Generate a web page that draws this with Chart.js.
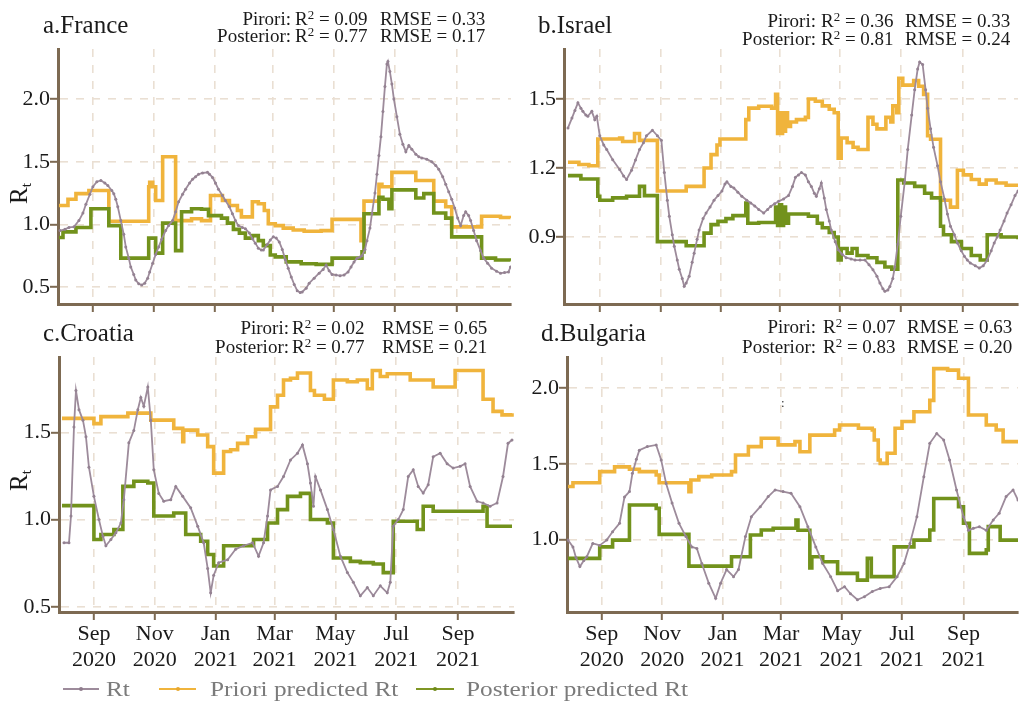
<!DOCTYPE html>
<html>
<head>
<meta charset="utf-8">
<script src="https://cdn.jsdelivr.net/npm/chart.js@4.4.1/dist/chart.umd.min.js"></script>
<style>
  html, body { margin:0; padding:0; background:#fff; overflow:hidden; }
  body { width:1022px; height:704px; position:relative; font-family:'Liberation Serif','Times New Roman',serif; }
  canvas { position:absolute; }
  .t { position:absolute; white-space:nowrap; line-height:1; color:#1a1a1a; }
  .title { font-size:25px; }
  .ann { font-size:19px; }
  .lab { text-align:right; }
  sup { font-size:0.68em; vertical-align:0.5em; line-height:0; }
  .ytitle { font-size:25px; transform:rotate(-90deg); transform-origin:center center; }
  .ytitle sub { font-size:0.62em; vertical-align:-0.25em; line-height:0; }
  .leg { position:absolute; top:676px; height:26px; font-size:22px; color:#7b7b7b; white-space:nowrap; transform:scaleX(1.15); transform-origin:left center; line-height:26px; }
  .sw { position:absolute; height:2px; top:688px; }
  .dot { position:absolute; width:4px; height:4px; border-radius:2px; top:687px; }
</style>
</head>
<body>
<canvas id="cA" width="515" height="320" style="left:0;top:0"></canvas>
<canvas id="cB" width="522" height="320" style="left:500px;top:0"></canvas>
<canvas id="cC" width="518" height="380" style="left:0;top:310px"></canvas>
<canvas id="cD" width="522" height="380" style="left:500px;top:310px"></canvas>

<!-- titles -->
<div class="t title" style="left:43px;top:12px">a.France</div>
<div class="t title" style="left:538px;top:12px">b.Israel</div>
<div class="t title" style="left:43px;top:320px">c.Croatia</div>
<div class="t title" style="left:541px;top:320px">d.Bulgaria</div>

<!-- annotations -->
<div class="t ann lab" style="right:731px;top:9px">Pirori:</div>
<div class="t ann" style="left:295px;top:9px">R<sup>2</sup> = 0.09</div>
<div class="t ann" style="left:380px;top:9px">RMSE = 0.33</div>
<div class="t ann lab" style="right:731px;top:26px">Posterior:</div>
<div class="t ann" style="left:295px;top:26px">R<sup>2</sup> = 0.77</div>
<div class="t ann" style="left:380px;top:26px">RMSE = 0.17</div>

<div class="t ann lab" style="right:206px;top:11px">Pirori:</div>
<div class="t ann" style="left:821px;top:11px">R<sup>2</sup> = 0.36</div>
<div class="t ann" style="left:905px;top:11px">RMSE = 0.33</div>
<div class="t ann lab" style="right:206px;top:29px">Posterior:</div>
<div class="t ann" style="left:821px;top:29px">R<sup>2</sup> = 0.81</div>
<div class="t ann" style="left:905px;top:29px">RMSE = 0.24</div>

<div class="t ann lab" style="right:733px;top:318px">Pirori:</div>
<div class="t ann" style="left:292px;top:318px">R<sup>2</sup> = 0.02</div>
<div class="t ann" style="left:382px;top:318px">RMSE = 0.65</div>
<div class="t ann lab" style="right:733px;top:337px">Posterior:</div>
<div class="t ann" style="left:292px;top:337px">R<sup>2</sup> = 0.77</div>
<div class="t ann" style="left:382px;top:337px">RMSE = 0.21</div>

<div class="t ann lab" style="right:206px;top:317px">Pirori:</div>
<div class="t ann" style="left:823px;top:317px">R<sup>2</sup> = 0.07</div>
<div class="t ann" style="left:907px;top:317px">RMSE = 0.63</div>
<div class="t ann lab" style="right:206px;top:337px">Posterior:</div>
<div class="t ann" style="left:823px;top:337px">R<sup>2</sup> = 0.83</div>
<div class="t ann" style="left:907px;top:337px">RMSE = 0.20</div>

<div class="t" style="left:781px;top:396px;font-size:13px;color:#333">:</div>

<!-- y titles -->
<div class="t ytitle" style="left:8px;top:181px">R<sub>t</sub></div>
<div class="t ytitle" style="left:8px;top:468px">R<sub>t</sub></div>

<!-- legend -->
<div class="sw" style="left:63px;width:36px;background:#9d8b9b"></div>
<div class="dot" style="left:79px;background:#8f7d8d"></div>
<div class="leg" style="left:106px">Rt</div>
<div class="sw" style="left:159px;width:37px;background:#f0b43c"></div>
<div class="dot" style="left:176px;background:#e8a830"></div>
<div class="leg" style="left:210px">Priori predicted Rt</div>
<div class="sw" style="left:416px;width:38px;background:#7f9624"></div>
<div class="dot" style="left:433px;background:#6e8a18"></div>
<div class="leg" style="left:466px">Posterior predicted Rt</div>

<script>
// ---- data (x = days since 1 Aug 2020) ----
const monthTicks = [31, 92, 153, 212, 273, 334, 396];
const monthLabels = [['Sep','2020'],['Nov','2020'],['Jan','2021'],['Mar','2021'],['May','2021'],['Jul','2021'],['Sep','2021']];
const seriesNames = ['Rt', 'Priori predicted Rt', 'Posterior predicted Rt'];

const franceYTicks = [0.5, 1.0, 1.5, 2.0];
const israelYTicks = [0.9, 1.2, 1.5];
const croatiaYTicks = [0.5, 1.0, 1.5];
const bulgariaYTicks = [1.0, 1.5, 2.0];

const franceRt = [[-2,0.95],[3,0.96],[7,0.975],[12,0.98],[17,1.03],[21,1.09],[24,1.16],[28,1.24],[31,1.30],[35,1.34],[39,1.35],[43,1.33],[46,1.31],[50,1.27],[52,1.245],[54,1.20],[56,1.14],[59,1.03],[62,0.92],[64,0.82],[67,0.73],[69,0.66],[72,0.60],[74,0.555],[77,0.525],[80,0.515],[83,0.53],[86,0.57],[88,0.62],[91,0.69],[94,0.76],[97,0.82],[100,0.88],[104,0.95],[107,0.99],[111,1.03],[114,1.10],[117,1.18],[121,1.24],[124,1.28],[128,1.33],[131,1.36],[134,1.38],[137,1.40],[141,1.41],[146,1.415],[148,1.40],[151,1.375],[154,1.33],[157,1.28],[161,1.23],[164,1.19],[168,1.14],[171,1.085],[174,1.03],[177,0.99],[181,0.975],[184,0.965],[188,0.93],[191,0.885],[194,0.85],[197,0.81],[200,0.795],[202,0.795],[206,0.84],[209,0.875],[212,0.90],[215,0.89],[218,0.86],[221,0.80],[224,0.72],[227,0.65],[230,0.58],[233,0.52],[236,0.47],[239,0.455],[241,0.46],[245,0.49],[248,0.53],[253,0.57],[258,0.61],[262,0.64],[265,0.675],[268,0.63],[271,0.60],[275,0.595],[279,0.59],[283,0.595],[287,0.62],[290,0.66],[293,0.70],[296,0.73],[299,0.74],[301,0.75],[304,0.80],[306,0.87],[309,0.97],[311,1.085],[314,1.25],[316,1.40],[318,1.55],[320,1.70],[322,1.90],[324,2.10],[326,2.28],[327,2.30],[329,2.22],[331,2.12],[333,2.0],[336,1.86],[339,1.72],[342,1.64],[345,1.58],[348,1.63],[351,1.60],[355,1.56],[358,1.54],[361,1.53],[366,1.52],[371,1.50],[375,1.47],[378,1.44],[382,1.38],[385,1.32],[388,1.26],[391,1.20],[394,1.13],[397,1.05],[400,0.99],[403,1.07],[405,1.10],[408,1.07],[410,1.03],[413,0.95],[416,0.87],[420,0.79],[423,0.73],[427,0.69],[431,0.65],[436,0.625],[440,0.61],[444,0.615],[448,0.62],[450,0.66]];
const francePriori = [[-3,1.15],[6,1.20],[14,1.245],[27,1.27],[47,1.025],[87,1.30],[88,1.335],[91,1.30],[94,1.19],[101,1.54],[114,1.03],[130,1.045],[140,1.03],[149,1.23],[161,1.19],[168,1.15],[176,1.11],[180,1.06],[191,1.18],[197,1.165],[203,1.11],[207,1.005],[214,0.99],[222,0.97],[232,0.955],[243,0.945],[260,0.95],[271,1.04],[300,0.87],[303,1.185],[318,1.32],[321,1.30],[331,1.415],[355,1.35],[373,1.185],[385,1.14],[391,0.98],[421,1.065],[440,1.055],[450,1.05]];
const francePosterior = [[-3,0.895],[1,0.94],[14,0.975],[29,1.125],[47,0.99],[59,0.73],[87,0.89],[94,0.77],[101,1.01],[114,0.79],[120,1.10],[130,1.125],[140,1.12],[147,1.07],[160,1.05],[166,1.01],[172,0.96],[178,0.93],[184,0.89],[191,0.91],[197,0.87],[202,0.83],[209,0.755],[214,0.74],[225,0.70],[240,0.685],[255,0.68],[271,0.73],[301,0.78],[303,1.085],[318,1.215],[322,1.20],[328,1.125],[331,1.275],[355,1.21],[363,1.245],[373,1.09],[385,1.05],[391,0.90],[421,0.73],[435,0.715],[450,0.71]];

const israelRt = [[-1,1.374],[3,1.417],[6,1.45],[9,1.483],[12,1.46],[14,1.446],[17,1.43],[19,1.425],[23,1.446],[26,1.41],[28,1.425],[31,1.34],[35,1.30],[38,1.28],[44,1.236],[51,1.193],[55,1.165],[58,1.15],[63,1.19],[67,1.235],[71,1.28],[75,1.31],[78,1.34],[84,1.364],[89,1.34],[93,1.32],[96,1.18],[99,1.06],[101,0.99],[104,0.91],[106,0.86],[109,0.80],[111,0.76],[114,0.72],[116,0.686],[118,0.70],[121,0.73],[124,0.79],[126,0.83],[129,0.89],[131,0.93],[135,0.98],[138,1.004],[142,1.03],[146,1.06],[150,1.08],[154,1.10],[157,1.13],[159,1.14],[163,1.12],[166,1.113],[170,1.095],[174,1.077],[179,1.06],[183,1.048],[187,1.035],[191,1.02],[196,1.004],[200,1.02],[203,1.033],[207,1.045],[211,1.055],[216,1.065],[221,1.08],[225,1.12],[228,1.16],[231,1.17],[234,1.18],[238,1.17],[241,1.14],[244,1.12],[247,1.09],[249,1.077],[252,1.11],[254,1.135],[257,1.07],[259,1.02],[262,0.97],[264,0.93],[268,0.88],[271,0.845],[275,0.825],[279,0.81],[284,0.805],[288,0.80],[293,0.80],[298,0.80],[302,0.78],[306,0.758],[310,0.73],[313,0.70],[316,0.675],[318,0.664],[321,0.67],[323,0.685],[326,0.72],[328,0.77],[331,0.87],[334,0.99],[338,1.14],[341,1.28],[345,1.43],[348,1.54],[351,1.63],[353,1.66],[356,1.65],[359,1.54],[361,1.46],[364,1.37],[367,1.29],[371,1.21],[374,1.14],[378,1.065],[381,1.0],[384,0.947],[388,0.91],[391,0.874],[395,0.84],[398,0.816],[401,0.80],[404,0.787],[409,0.775],[413,0.765],[417,0.775],[421,0.80],[425,0.84],[428,0.874],[431,0.90],[434,0.93],[438,0.97],[441,1.004],[445,1.04],[449,1.08],[452,1.10]];
const israelPriori = [[-1,1.225],[10,1.215],[20,1.21],[29,1.326],[51,1.33],[54,1.315],[66,1.35],[71,1.32],[89,1.10],[118,1.12],[136,1.20],[143,1.258],[149,1.30],[152,1.326],[178,1.41],[181,1.46],[191,1.468],[204,1.46],[208,1.52],[210,1.35],[212,1.44],[213,1.35],[215,1.44],[216,1.36],[218,1.44],[220,1.38],[223,1.40],[229,1.41],[238,1.42],[241,1.50],[248,1.49],[255,1.47],[262,1.455],[267,1.44],[271,1.243],[274,1.33],[280,1.31],[286,1.29],[291,1.28],[301,1.42],[306,1.39],[310,1.37],[319,1.42],[324,1.40],[326,1.47],[330,1.44],[332,1.59],[336,1.56],[347,1.58],[352,1.555],[357,1.52],[361,1.34],[364,1.325],[374,1.06],[384,1.03],[391,1.19],[397,1.17],[405,1.15],[413,1.13],[420,1.148],[430,1.135],[440,1.125],[452,1.12]];
const israelPosterior = [[-1,1.167],[12,1.152],[29,1.077],[31,1.06],[44,1.07],[58,1.077],[71,1.12],[76,1.08],[89,0.88],[118,0.862],[136,0.917],[143,0.954],[150,0.968],[158,0.98],[165,0.993],[178,1.048],[180,0.96],[191,0.963],[205,0.963],[208,1.03],[210,0.95],[212,1.04],[214,0.95],[216,1.03],[218,0.96],[221,1.0],[228,1.0],[241,0.99],[250,0.96],[255,0.94],[262,0.92],[267,0.90],[271,0.80],[274,0.85],[280,0.83],[285,0.85],[290,0.82],[296,0.82],[301,0.81],[310,0.79],[318,0.77],[325,0.76],[331,1.148],[337,1.135],[348,1.12],[358,1.09],[365,1.07],[374,0.947],[377,0.91],[385,0.88],[395,0.85],[405,0.82],[414,0.80],[421,0.91],[435,0.90],[452,0.89]];

const croatiaRt = [[1,0.867],[6,0.867],[8,1.02],[11,1.53],[13,1.74],[16,1.63],[20,1.57],[23,1.475],[26,1.30],[31,1.133],[36,1.0],[40,0.905],[43,0.85],[48,0.886],[53,0.924],[58,0.98],[61,1.114],[66,1.44],[71,1.51],[75,1.63],[78,1.70],[81,1.65],[85,1.76],[88,1.57],[91,1.285],[96,1.15],[101,1.105],[108,1.114],[113,1.19],[120,1.133],[128,1.067],[135,0.962],[141,0.867],[145,0.72],[148,0.58],[151,0.68],[156,0.753],[165,0.77],[173,0.83],[181,0.85],[190,0.867],[196,0.79],[201,0.867],[205,1.02],[208,1.17],[215,1.19],[221,1.247],[228,1.342],[235,1.38],[240,1.428],[245,1.32],[248,1.21],[251,1.076],[253,1.247],[258,1.17],[265,1.057],[271,0.943],[278,0.79],[285,0.696],[291,0.64],[298,0.563],[305,0.61],[311,0.563],[318,0.62],[325,0.58],[328,0.64],[331,0.962],[336,1.0],[341,1.057],[346,1.247],[351,1.285],[356,1.19],[361,1.152],[366,1.20],[371,1.36],[378,1.38],[385,1.32],[391,1.295],[398,1.305],[403,1.32],[408,1.19],[415,1.105],[421,1.095],[428,1.076],[435,1.095],[441,1.247],[446,1.437],[450,1.456]];
const croatiaPriori = [[-1,1.58],[31,1.55],[38,1.59],[65,1.61],[88,1.57],[111,1.523],[120,1.447],[121,1.513],[135,1.485],[145,1.418],[151,1.266],[161,1.39],[168,1.40],[175,1.437],[185,1.475],[193,1.517],[208,1.646],[215,1.713],[221,1.80],[228,1.81],[235,1.84],[248,1.74],[252,1.713],[262,1.69],[271,1.80],[285,1.79],[295,1.80],[305,1.75],[310,1.855],[318,1.82],[325,1.836],[348,1.80],[371,1.76],[393,1.855],[421,1.69],[431,1.62],[440,1.60],[450,1.61]];
const croatiaPosterior = [[-1,1.08],[31,0.886],[38,0.914],[51,0.943],[60,1.19],[71,1.22],[85,1.21],[91,1.02],[111,1.038],[123,0.914],[138,0.876],[145,0.80],[151,0.734],[161,0.85],[191,0.886],[205,0.98],[215,1.057],[225,1.133],[238,1.15],[248,1.0],[265,0.98],[271,0.78],[288,0.76],[298,0.753],[311,0.745],[321,0.696],[331,0.99],[355,0.943],[361,1.076],[371,1.048],[421,1.076],[425,0.962],[450,0.962]];

const bulgariaRt = [[-3,0.995],[2,0.95],[5,0.88],[9,0.82],[13,0.86],[16,0.885],[22,0.973],[29,0.96],[36,0.995],[42,1.05],[49,1.106],[54,1.28],[59,1.316],[62,1.437],[66,1.53],[69,1.59],[77,1.614],[86,1.625],[91,1.526],[96,1.37],[102,1.24],[109,1.106],[116,1.018],[122,0.95],[127,0.94],[132,0.84],[139,0.71],[146,0.61],[151,0.71],[157,0.80],[164,0.753],[169,0.80],[176,1.018],[182,1.15],[191,1.216],[199,1.283],[206,1.327],[214,1.316],[222,1.305],[231,1.216],[239,1.084],[247,0.95],[254,0.84],[262,0.753],[269,0.66],[276,0.686],[282,0.64],[289,0.60],[296,0.62],[304,0.655],[312,0.675],[321,0.686],[329,0.753],[336,0.84],[342,0.973],[349,1.15],[356,1.415],[362,1.636],[369,1.70],[376,1.658],[382,1.525],[389,1.327],[396,1.15],[401,1.06],[406,1.073],[412,1.084],[419,1.06],[426,1.128],[432,1.172],[439,1.283],[446,1.327],[451,1.26]];
const bulgariaPriori = [[-3,1.35],[2,1.375],[29,1.448],[44,1.48],[59,1.464],[69,1.448],[86,1.426],[89,1.375],[119,1.316],[121,1.393],[129,1.415],[142,1.426],[162,1.448],[166,1.558],[179,1.614],[192,1.669],[209,1.625],[226,1.647],[231,1.58],[241,1.69],[266,1.724],[271,1.757],[290,1.735],[304,1.724],[306,1.658],[310,1.525],[312,1.503],[319,1.57],[327,1.735],[334,1.78],[346,1.845],[362,1.92],[366,2.13],[380,2.12],[391,2.066],[401,1.823],[419,1.757],[429,1.724],[436,1.647],[451,1.655]];
const bulgariaPosterior = [[-3,0.874],[29,0.95],[42,0.995],[59,1.227],[86,1.205],[89,1.033],[119,0.823],[162,0.885],[181,1.029],[192,1.062],[204,1.073],[227,1.128],[229,1.06],[241,0.81],[243,0.885],[254,0.852],[269,0.775],[289,0.73],[299,0.874],[303,0.753],[326,0.95],[346,0.995],[362,1.062],[366,1.27],[391,1.216],[396,1.106],[402,0.907],[419,0.93],[421,1.084],[433,0.995],[451,0.995]];

// ---- styling ----
const FONT = "'Liberation Serif','Times New Roman',serif";
const AXIS = '#7d6a52';
const GRID = '#eadfd3';
const C_RT = '#9d8b9b', C_PRI = '#f0b43c', C_POS = '#72921c';

function toXY(arr){ return arr.map(p => ({x:p[0], y:p[1]})); }

function panel(id, o){
  new Chart(document.getElementById(id), {
    type:'line',
    data:{ datasets:[
      { label:seriesNames[2], data:toXY(o.pos), borderColor:C_POS, borderWidth:3.6, pointRadius:0, stepped:true, order:2 },
      { label:seriesNames[1], data:toXY(o.pri), borderColor:C_PRI, borderWidth:3.6, pointRadius:0, stepped:true, order:3 },
      { label:seriesNames[0], data:toXY(o.rt), borderColor:C_RT, borderWidth:1.8, pointRadius:1.5, pointBorderWidth:0, pointBackgroundColor:'#948292', order:1 }
    ]},
    options:{
      responsive:false, animation:false, devicePixelRatio:1,
      layout:{ padding:{ top:o.padTop, right:o.padRight, left:0, bottom:0 } },
      plugins:{ legend:{display:false}, tooltip:{enabled:false} },
      scales:{
        x:{ type:'linear', min:o.xmin, max:o.xmax,
            afterBuildTicks:s => { s.ticks = monthTicks.map(v => ({value:v})); },
            afterFit:s => { s.height = o.xh; },
            ticks:{ display:o.xlabels, autoSkip:false, maxRotation:0, padding:1,
                    font:{family:FONT, size:22, lineHeight:1.2}, color:'#1a1a1a',
                    callback:(v, i) => monthLabels[i] },
            grid:{ color:GRID, lineWidth:1.6, tickColor:AXIS, tickWidth:2, tickLength:8, tickBorderDash:[] },
            border:{ color:AXIS, width:3, dash:[8,8] } },
        y:{ type:'linear', min:o.ymin, max:o.ymax,
            afterBuildTicks:s => { s.ticks = o.yticks.map(v => ({value:v})); },
            afterFit:s => { s.width = o.yw; },
            ticks:{ padding:0, font:{family:FONT, size:22}, color:'#1a1a1a', callback:v => v.toFixed(1) },
            grid:{ color:GRID, lineWidth:1.6, tickColor:AXIS, tickWidth:2, tickLength:8, tickBorderDash:[] },
            border:{ color:AXIS, width:3, dash:[8,8] } }
      }
    }
  });
}

panel('cA', { rt:franceRt, pri:francePriori, pos:francePosterior, yticks:franceYTicks,
  ymin:0.364, ymax:2.40, xmin:-4, xmax:450.5, padTop:49, padRight:3, yw:58, xh:16, xlabels:false });
panel('cB', { rt:israelRt, pri:israelPriori, pos:israelPosterior, yticks:israelYTicks,
  ymin:0.609, ymax:1.717, xmin:-5, xmax:452, padTop:49, padRight:1, yw:64, xh:16, xlabels:false });
panel('cC', { rt:croatiaRt, pri:croatiaPriori, pos:croatiaPosterior, yticks:croatiaYTicks,
  ymin:0.47, ymax:1.932, xmin:-4, xmax:452, padTop:47, padRight:3, yw:59, xh:78, xlabels:true });
panel('cD', { rt:bulgariaRt, pri:bulgariaPriori, pos:bulgariaPosterior, yticks:bulgariaYTicks,
  ymin:0.519, ymax:2.207, xmin:-4, xmax:451, padTop:47, padRight:0, yw:67, xh:78, xlabels:true });
</script>
</body>
</html>
